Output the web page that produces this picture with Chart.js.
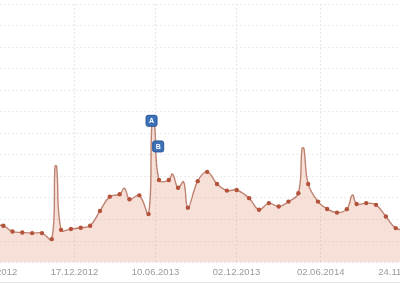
<!DOCTYPE html>
<html>
<head>
<meta charset="utf-8">
<script src="https://cdn.jsdelivr.net/npm/chart.js@4/dist/chart.umd.min.js"></script>
<style>
  html, body { margin: 0; padding: 0; background: #fff; }
  #wrap { position: relative; width: 400px; height: 284px; overflow: hidden; }
  #visChart { position: absolute; left: -40px; top: 0; }
  #foot { position: absolute; left: 0; top: 282px; width: 400px; height: 1px; background: #e4e4e4; }
</style>
</head>
<body>
<div id="wrap">
  <canvas id="visChart" width="480" height="284"></canvas>
  <div id="foot"></div>
</div>
<script>
// semanas desde 25.06.2012
const tickWeeks = [0, 25, 50, 75, 101, 126];
const tickLabels = ['25.06.2012', '17.12.2012', '10.06.2013', '02.12.2013', '02.06.2014', '24.11.2014'];

// pontos com marcador
const dotWeeks = [3.06, 5.88, 8.91, 11.95, 14.98, 18.02, 20.87, 23.91, 26.94, 29.86,
    32.89, 35.92, 38.96, 41.99, 45.03, 47.88, 51.1, 54.13, 56.99, 60.02,
    63.05, 65.97, 69.01, 72.04, 75.07, 78.93, 81.97, 85.0, 88.04, 91.07,
    94.11, 97.14, 100.17, 103.0, 106.03, 109.07, 112.1, 115.05, 118.08, 121.11, 124.15];
const dotValues = [171, 144, 140, 137, 137, 109, 152, 156, 162, 171,
    240, 306, 317, 294, 312, 225, 383, 383, 347, 255,
    378, 421, 365, 334, 337, 299, 245, 276, 260, 283,
    322, 365, 283, 249, 232, 248, 272, 276, 268, 214, 160];

// pontos sem marcador (picos)
const extraWeeks = [0, 19.02, 19.51, 40.48, 48.93, 49.64, 55.26, 58.69, 95.26, 95.81, 110.8, 127.2];
const extraValues = [175, 448, 448, 345, 651, 651, 411, 375, 531, 531, 314, 150];

// eventos
const flagLetters = ['A', 'B'];
const flagWeeks = [48.8, 50.85];
const flagValues = [658, 539];

const dots = dotWeeks.map((w, i) => ({ x: w, y: dotValues[i] }));
const line = dots.concat(extraWeeks.map((w, i) => ({ x: w, y: extraValues[i] })))
    .sort((a, b) => a.x - b.x);

const flagPlugin = {
    id: 'flags',
    afterDatasetsDraw(chart) {
        const { ctx, scales } = chart;
        ctx.save();
        flagLetters.forEach((letter, i) => {
            const px = scales.x.getPixelForValue(flagWeeks[i]);
            const py = scales.y.getPixelForValue(flagValues[i]);
            ctx.beginPath();
            ctx.roundRect(px - 5.5, py - 5.5, 11, 11, 2);
            ctx.fillStyle = '#3d71b8';
            ctx.fill();
            ctx.strokeStyle = '#2b5797';
            ctx.lineWidth = 1;
            ctx.stroke();
            ctx.fillStyle = '#fff';
            ctx.font = 'bold 7px "Liberation Sans", Arial, sans-serif';
            ctx.textAlign = 'center';
            ctx.textBaseline = 'middle';
            ctx.fillText(letter, px, py + 0.5);
        });
        ctx.restore();
    }
};

const ctx = document.getElementById('visChart').getContext('2d');
new Chart(ctx, {
    type: 'line',
    data: {
        datasets: [{
            data: dots,
            showLine: false,
            pointRadius: 2.2,
            pointBackgroundColor: '#b4533b',
            pointBorderWidth: 0,
            order: 0
        }, {
            data: line,
            borderColor: '#bf8270',
            borderWidth: 1.4,
            backgroundColor: 'rgba(228, 165, 140, 0.34)',
            fill: 'origin',
            tension: 0.4,
            pointRadius: 0,
            order: 1
        }]
    },
    options: {
        responsive: false,
        animation: false,
        devicePixelRatio: 1,
        layout: { padding: { top: 3, bottom: 2, left: 0, right: 0 } },
        plugins: { legend: { display: false }, tooltip: { enabled: false } },
        scales: {
            x: {
                type: 'linear',
                min: -9.08,
                max: 136.59,
                afterBuildTicks: axis => { axis.ticks = tickWeeks.map(v => ({ value: v })); },
                grid: { color: '#e6e6e6', drawTicks: false },
                border: { display: false, dash: [2, 2] },
                ticks: {
                    autoSkip: false,
                    maxRotation: 0,
                    padding: 4,
                    color: '#9a9a9a',
                    font: { family: '"Liberation Sans", Arial, sans-serif', size: 9.5 },
                    callback: value => tickLabels[tickWeeks.indexOf(value)]
                }
            },
            y: {
                min: 0,
                max: 1200,
                ticks: { display: false, stepSize: 100 },
                grid: { color: '#ebebeb', drawTicks: false },
                border: { display: false, dash: [2, 2] }
            }
        }
    },
    plugins: [flagPlugin]
});
</script>
</body>
</html>
